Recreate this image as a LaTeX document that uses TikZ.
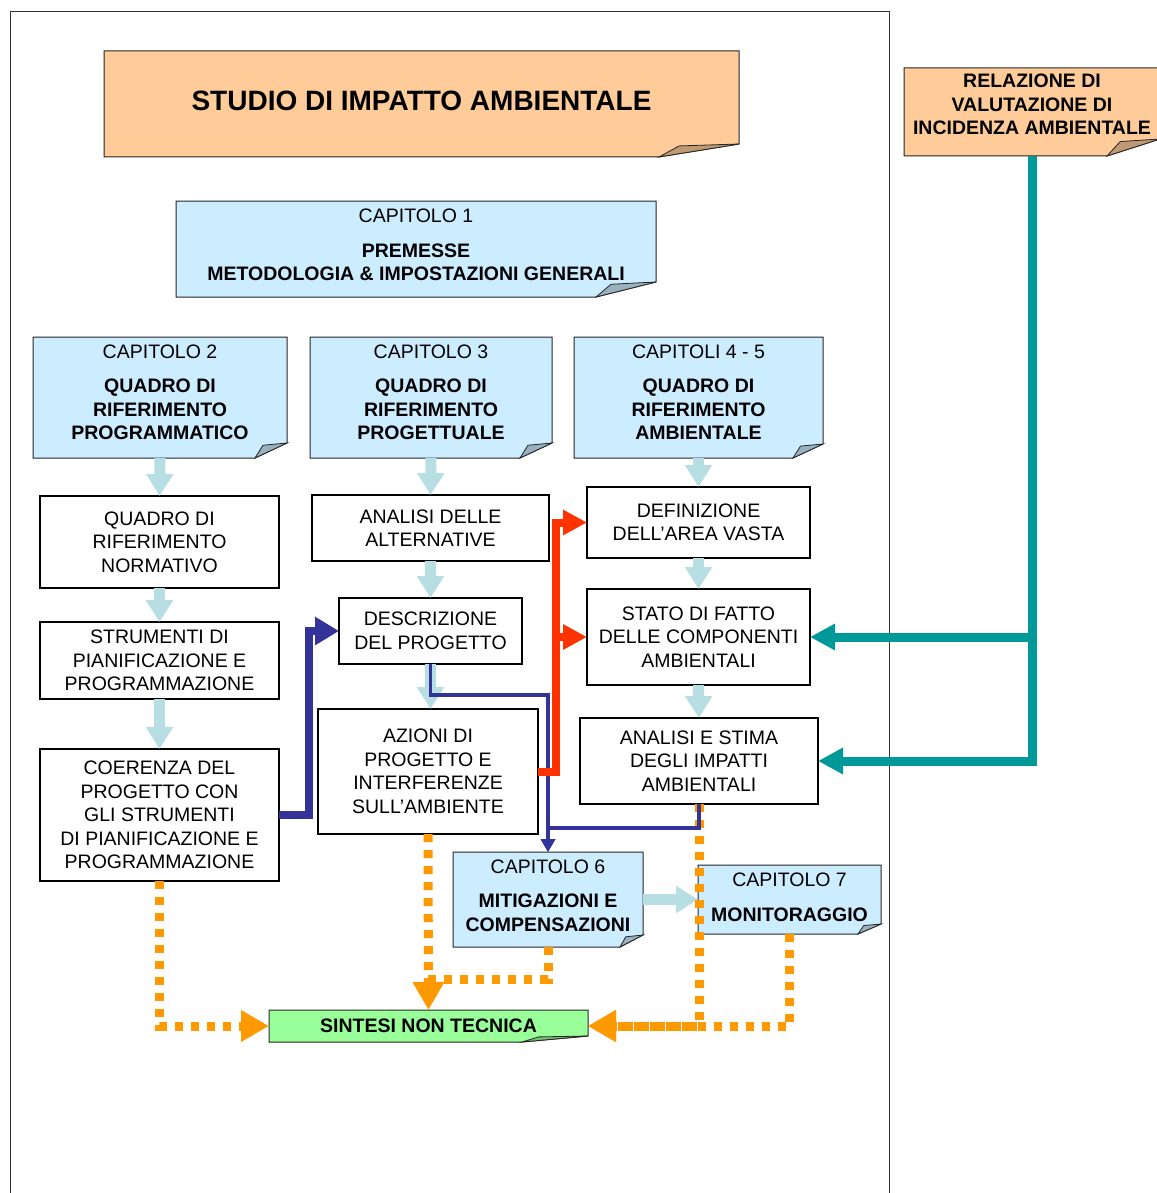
\documentclass[tikz,border=0pt]{standalone}
\usepackage{fontspec}
\setmainfont{Liberation Sans}
\usetikzlibrary{arrows.meta,calc}

\definecolor{boxblue}{HTML}{CCECFF}
\definecolor{boxorange}{HTML}{FFCC99}
\definecolor{boxgreen}{HTML}{99FF99}
\definecolor{arrowblue}{HTML}{B7DEE3}
\definecolor{navy}{HTML}{333399}
\definecolor{redline}{HTML}{FF3300}
\definecolor{tealline}{HTML}{009999}
\definecolor{orangeline}{HTML}{FF9900}

\newcommand{\dn}[1][8pt]{\rule[-#1]{0pt}{#1}}
% name, x1, y1, x2, y2, fill, fold width, fold height, text
\newcommand{\foldbox}[9]{
    \filldraw[fill=#6,draw=black!85,line width=1pt]
        (#2,#3) -- (#4,#3) -- (#4,#5-#8) -- (#4-#7,#5) -- (#2,#5) -- cycle;
    \filldraw[fill=#6!75!black,draw=black!85,line width=0.8pt]
        (#4-#7,#5) -- (#4-0.75*#7,#5-0.85*#8) -- (#4,#5-#8) -- cycle;
    \node[inner sep=0pt,outer sep=0pt,align=center,
          minimum width={(#4-#2)*1pt},minimum height={(#5-#3)*1pt}]
        (#1) at ({(#2+#4)/2},{(#3+#5)/2}) {#9};
}

\begin{document}
\begin{tikzpicture}[x=1pt,y=-1pt,font=\fontsize{19.5}{23.5}\selectfont]
    \tikzstyle{plain}=[draw=black,line width=1.2pt,fill=white,align=center,inner sep=0pt,outer sep=0pt]
    \tikzstyle{lbarrow}=[draw=arrowblue,line width=11pt,-{Triangle[width=26pt,length=22pt]}]
    \tikzstyle{navyarrow}=[draw=navy,line width=8pt,-{Triangle[width=27pt,length=24pt]}]
    \tikzstyle{navythin}=[draw=navy,line width=3.6pt,-{Triangle[width=14pt,length=13pt]}]
    \tikzstyle{redarrow}=[draw=redline,line width=8pt,-{Triangle[width=24pt,length=24pt]}]
    \tikzstyle{tealarrow}=[draw=tealline,line width=9pt,-{Triangle[width=25pt,length=25pt]}]
    \tikzstyle{orangedot}=[draw=orangeline,line width=9pt,dash pattern=on 8pt off 8pt,-{Triangle[width=30pt,length=28pt]}]
    \useasboundingbox (0,0) rectangle (1156,1193);

    % page frame
    \draw[line width=1pt,black!80] (10,1200) -- (10,12) -- (889,12) -- (889,1200);

    % folded boxes
    \foldbox{titolo}{104}{51}{739}{157}{boxorange}{80}{13}{\fontsize{28}{34}\selectfont\bfseries STUDIO DI IMPATTO AMBIENTALE\dn[6pt]}
    \foldbox{relazione}{904}{68}{1160}{156}{boxorange}{53}{17}{\textbf{RELAZIONE DI}\\\textbf{VALUTAZIONE DI}\\\textbf{INCIDENZA AMBIENTALE}\dn[15pt]}
    \foldbox{cap1}{176}{201}{656}{297}{boxblue}{60}{15}{CAPITOLO 1\\[11pt]\textbf{PREMESSE}\\\textbf{METODOLOGIA \& IMPOSTAZIONI GENERALI}\dn}
    \foldbox{cap2}{33}{337}{287}{458}{boxblue}{32}{15}{CAPITOLO 2\\[11pt]\textbf{QUADRO DI}\\\textbf{RIFERIMENTO}\\\textbf{PROGRAMMATICO}\dn[11pt]}
    \foldbox{cap3}{310}{337}{552}{458}{boxblue}{32}{15}{CAPITOLO 3\\[11pt]\textbf{QUADRO DI}\\\textbf{RIFERIMENTO}\\\textbf{PROGETTUALE}\dn[11pt]}
    \foldbox{cap45}{574}{337}{823}{458}{boxblue}{30}{14}{CAPITOLI 4 - 5\\[11pt]\textbf{QUADRO DI}\\\textbf{RIFERIMENTO}\\\textbf{AMBIENTALE}\dn[11pt]}
    \foldbox{cap6}{453}{852}{643}{947}{boxblue}{23}{12}{CAPITOLO 6\\[11pt]\textbf{MITIGAZIONI E}\\\textbf{COMPENSAZIONI}\dn}
    \foldbox{cap7}{698}{865}{881}{934}{boxblue}{23}{10}{CAPITOLO 7\\[11pt]\textbf{MONITORAGGIO}\dn[5pt]}
    \foldbox{sintesi}{269}{1010}{588}{1042}{boxgreen}{66}{6}{\textbf{SINTESI NON TECNICA}}

    % plain boxes
    \node[plain,minimum width=239,minimum height=92] (normativo) at (159.5,542) {QUADRO DI\\RIFERIMENTO\\NORMATIVO};
    \node[plain,minimum width=239,minimum height=77] (strumenti) at (159.5,660.5) {STRUMENTI DI\\PIANIFICAZIONE E\\PROGRAMMAZIONE};
    \node[plain,minimum width=239,minimum height=132] (coerenza) at (159.5,815) {COERENZA DEL\\PROGETTO CON\\GLI STRUMENTI\\DI PIANIFICAZIONE E\\PROGRAMMAZIONE};
    \node[plain,minimum width=237,minimum height=66] (alternative) at (430.5,528) {ANALISI DELLE\\ALTERNATIVE};
    \node[plain,minimum width=183,minimum height=66] (descrizione) at (430.5,631) {DESCRIZIONE\\DEL PROGETTO};
    \node[plain,minimum width=220,minimum height=125] (azioni) at (428,771.5) {AZIONI DI\\PROGETTO E\\INTERFERENZE\\SULL’AMBIENTE};
    \node[plain,minimum width=223,minimum height=71] (definizione) at (698.5,522.5) {DEFINIZIONE\\DELL’AREA VASTA};
    \node[plain,minimum width=223,minimum height=96] (stato) at (698.5,637) {STATO DI FATTO\\DELLE COMPONENTI\\AMBIENTALI};
    \node[plain,minimum width=238,minimum height=86] (stima) at (699,761) {ANALISI E STIMA\\DEGLI IMPATTI\\AMBIENTALI};

    % sequence arrows
    \draw[lbarrow] (cap2.south) -- (normativo.north);
    \draw[lbarrow] (normativo.south) -- (strumenti.north);
    \draw[lbarrow] (strumenti.south) -- (coerenza.north);
    \draw[lbarrow] (cap3.south) -- (alternative.north);
    \draw[lbarrow] (alternative.south) -- (descrizione.north);
    \draw[lbarrow] (descrizione.south) -- (descrizione.south |- azioni.north);
    \draw[lbarrow] (cap45.south) -- (definizione.north);
    \draw[lbarrow] (definizione.south) -- (stato.north);
    \draw[lbarrow] (stato.south) -- (stima.north);
    \draw[lbarrow] (cap6.east) -- (cap7.west);

    % towards the non technical summary
    \draw[orangedot] (coerenza.south) |- (sintesi.west);
    \draw[orangedot] (azioni.south) -- (sintesi.north);
    \draw[orangedot,-] (cap6.south) -- ++(0,32) -- ++(-120,0);
    \draw[orangedot] (stima.south) |- (sintesi.east);
    \draw[orangedot] (cap7.south) |- (sintesi.east);

    % mitigations
    \draw[navythin] (descrizione.south) -- ++(0,31) -| (cap6.north);
    \draw[navythin] (stima.south) -- ++(0,24) -| (cap6.north);

    \coordinate (redbend) at ([xshift=18pt]azioni.east);
    \draw[redarrow] (azioni.east) -- (redbend) |- (definizione.west);
    \draw[redarrow] (redbend |- stato.west) -- (stato.west);

    \draw[navyarrow] (coerenza.east) -- ++(30,0) |- (descrizione.west);

    \draw[tealarrow] (relazione.south) |- (stima.east);
    \draw[tealarrow] (relazione.south |- stato.east) -- (stato.east);
\end{tikzpicture}
\end{document}
